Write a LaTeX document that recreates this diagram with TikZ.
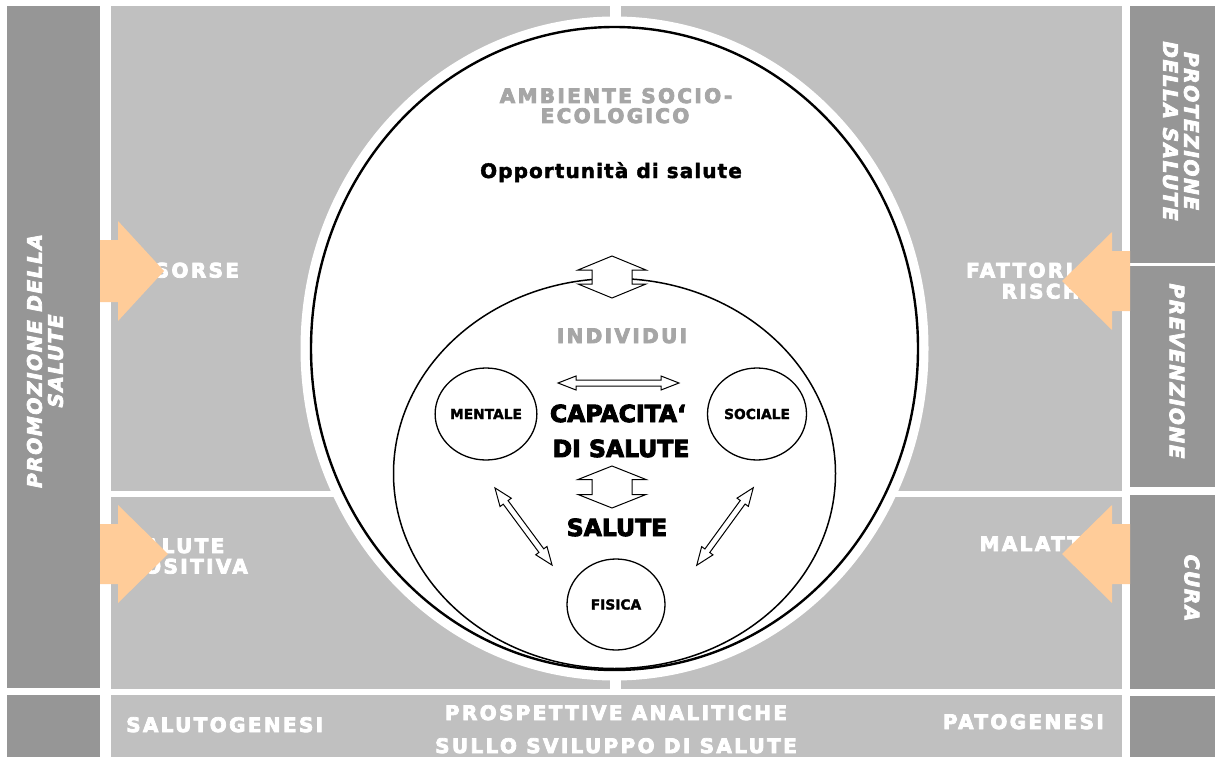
\documentclass[tikz,border=0pt]{standalone}
\usepackage{fontspec}
\setmainfont{DejaVu Sans}
\newfontfamily\trkA{DejaVu Sans Bold}[LetterSpace=11.75, FakeBold=4]
\newfontfamily\trkV{DejaVu Sans Bold Oblique}[LetterSpace=8, FakeBold=4]
\newfontfamily\trkO{DejaVu Sans Bold}[LetterSpace=5.5, FakeBold=2]
\newfontfamily\heavy{DejaVu Sans Bold}[FakeBold=4]
\newfontfamily\semiheavy{DejaVu Sans Bold}[FakeBold=2]
\usetikzlibrary{shapes.geometric}
\definecolor{darkbar}{RGB}{150,150,150}
\definecolor{lightpan}{RGB}{192,192,192}
\definecolor{peach}{RGB}{255,204,153}
\definecolor{txtgray}{RGB}{166,166,166}
% cx cy angle halflength headlength headhalfwidth shafthalfwidth
\newcommand\dblarr[7]{%
  \draw[openarr, shift={(#1,#2)}, rotate=#3] (-#4,0) -- ({-#4+#5},#6) -- ({-#4+#5},#7) -- ({#4-#5},#7) -- ({#4-#5},#6) -- (#4,0) -- ({#4-#5},-#6) -- ({#4-#5},-#7) -- ({-#4+#5},-#7) -- ({-#4+#5},-#6) -- cycle;}
\begin{document}
\begin{tikzpicture}[x=1pt,y=-1pt,
  wlab/.style={text=white, inner sep=0pt, font=\trkA\fontsize{20}{21}\selectfont},
  glab/.style={text=txtgray, inner sep=0pt, font=\trkA\fontsize{20}{21}\selectfont},
  vlab/.style={text=white, inner sep=0pt, align=center, font=\trkV\fontsize{20}{21}\selectfont},
  biglab/.style={text=black, inner sep=0pt, font=\heavy\fontsize{23.5}{25}\selectfont},
  opplab/.style={text=black, inner sep=0pt, font=\trkO\fontsize{20}{21}\selectfont},
  smallc/.style={draw=black, line width=1.3pt, ellipse, fill=white, inner sep=0pt, font=\semiheavy\fontsize{13.8}{15}\selectfont},
  openarr/.style={draw=black, fill=white, line width=1pt, line join=miter},
  orangearr/.style={fill=peach}]
\useasboundingbox (0,0) rectangle (1215,757);
\fill[white] (0,0) rectangle (1215,757);
% dark side bars
\fill[darkbar] (7,6) rectangle (100,688);
\fill[darkbar] (7,695) rectangle (100,757);
\fill[darkbar] (1130,6) rectangle (1215,263);
\fill[darkbar] (1130,266) rectangle (1215,487);
\fill[darkbar] (1130,495) rectangle (1215,689);
\fill[darkbar] (1130,696) rectangle (1215,757);
% light panels
\fill[lightpan] (111,6) rectangle (610,491);
\fill[lightpan] (621,6) rectangle (1122,491);
\fill[lightpan] (111,497) rectangle (610,689);
\fill[lightpan] (621,497) rectangle (1122,689);
\fill[lightpan] (111,695) rectangle (1122,757);
% big ellipse with white halo
\fill[white] (614.5,348.5) ellipse [x radius=314pt, y radius=332pt];
\draw[line width=2.4pt, fill=white] (614.5,348.5) ellipse [x radius=303.5pt, y radius=321.5pt];
% inner ellipse
\draw[line width=1.5pt] (614.5,473.5) ellipse [x radius=221pt, y radius=195pt];
% panel texts
\node[wlab, anchor=base west] (risorse) at (127,277.5) {RISORSE};
\node[wlab, anchor=base east] (fattori) at (1109,277.5) {FATTORI DI};
\node[wlab, anchor=base east] (rischio) at (1109,298.5) {RISCHIO};
\node[wlab, anchor=base west] (salpos1) at (127,553) {SALUTE};
\node[wlab, anchor=base west] (salpos2) at (127,573.5) {POSITIVA};
\node[wlab, anchor=base east] (malattia) at (1109,551) {MALATTIA};
\node[wlab, anchor=base west] (salutog) at (126,732) {SALUTOGENESI};
\node[wlab, anchor=base east] (patog) at (1104,729) {PATOGENESI};
\node[wlab, anchor=base] (prosp1) at (616,720) {PROSPETTIVE ANALITICHE};
\node[wlab, anchor=base] (prosp2) at (616,753) {SULLO SVILUPPO DI SALUTE};
% orange block arrows
\fill[orangearr] (100,240) -- (118,240) -- (118,221) -- (164,271) -- (118,321) -- (118,302) -- (100,302) -- cycle;
\fill[orangearr] (100,524) -- (118,524) -- (118,505) -- (168,554) -- (118,603) -- (118,584) -- (100,584) -- cycle;
\fill[orangearr] (1130,251) -- (1112,251) -- (1112,232) -- (1062,281) -- (1112,330) -- (1112,311) -- (1130,311) -- cycle;
\fill[orangearr] (1130,524) -- (1112,524) -- (1112,505) -- (1062,554) -- (1112,603) -- (1112,584) -- (1130,584) -- cycle;
% vertical side labels
\node[vlab, rotate=90] (promo) at (45,361) {PROMOZIONE DELLA\\SALUTE};
\node[vlab, rotate=-90] (protez) at (1181,131) {PROTEZIONE\\DELLA SALUTE};
\node[vlab, rotate=-90] (prev) at (1177,371) {PREVENZIONE};
\node[vlab, rotate=-90] (cura) at (1192,588) {CURA};
% texts inside ellipse
\node[glab, anchor=base] (amb1) at (616,103) {AMBIENTE SOCIO-};
\node[glab, anchor=base] (amb2) at (615,123) {ECOLOGICO};
\node[opplab, anchor=base] (opp) at (611,178) {Opportunità di salute};
\node[glab, anchor=base] (indiv) at (622,343) {INDIVIDUI};
\node[biglab, anchor=base] (cap1) at (618,422) {CAPACITA‘};
\node[biglab, anchor=base] (cap2) at (621,457) {DI SALUTE};
\node[biglab, anchor=base] (salute) at (617,536) {SALUTE};
% small circles
\node[smallc, minimum width=99pt, minimum height=92pt] (mentale) at (486,414) {MENTALE};
\node[smallc, minimum width=99pt, minimum height=92pt] (sociale) at (757,414) {SOCIALE};
\node[smallc, minimum width=98pt, minimum height=91pt] (fisica) at (616,604.5) {FISICA};
% open double arrows
\dblarr{612}{277}{90}{21}{14}{34}{20}
\dblarr{612}{487}{90}{21}{13.5}{34}{20}
\dblarr{618.5}{383}{0}{60.5}{18}{7}{3}
\dblarr{523.5}{526.5}{-53.5}{48}{18}{7}{3}
\dblarr{725}{526.5}{53.9}{48}{18}{7}{3}
\end{tikzpicture}
\end{document}
